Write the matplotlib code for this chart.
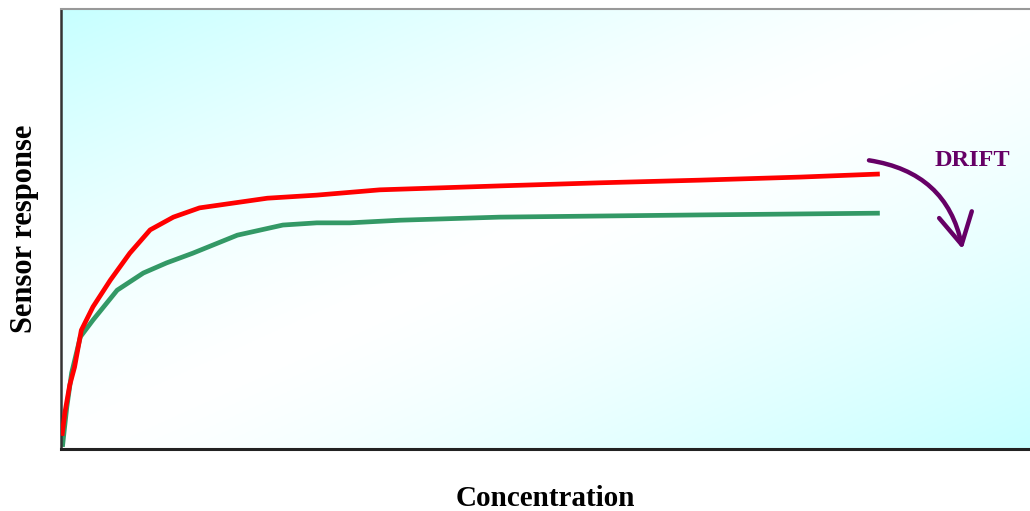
import numpy as np
import matplotlib
matplotlib.use("Agg")
import matplotlib.pyplot as plt
from matplotlib.patches import FancyArrowPatch

# concentration (arbitrary units) and sensor response (arbitrary units)
conc_red = [0.1, 0.4, 0.9, 1.4, 2.1, 3.3, 5.1, 7.1, 9.2, 11.6, 14.3, 17.8,
            21.3, 26.4, 32.9, 45.3, 55.6, 65.9, 76.3, 84.5]
resp_red = [3.0, 8.2, 14.5, 18.6, 27.0, 32.3, 38.4, 44.5, 49.8, 52.7, 54.8, 55.9,
            57.0, 57.7, 58.9, 59.8, 60.5, 61.1, 61.8, 62.5]

conc_green = [0.15, 0.6, 1.1, 2.0, 3.3, 5.8, 8.5, 10.9, 13.6, 18.2, 22.9, 26.4,
              29.8, 35.0, 45.3, 65.9, 84.5]
resp_green = [0.5, 9.5, 17.3, 25.5, 29.3, 36.1, 40.0, 42.3, 44.5, 48.6, 50.9, 51.4,
              51.4, 52.0, 52.7, 53.2, 53.6]

serif = ["Liberation Serif", "DejaVu Serif"]
purple = "#660066"

fig = plt.figure(figsize=(10.30, 5.11), dpi=100)
ax = fig.add_axes([0.0592, 0.1213, 0.9408, 0.8611])

# diagonal cyan -> white -> cyan background
u, v = np.meshgrid(np.linspace(0, 1, 300), np.linspace(0, 1, 150))
t = np.clip(np.abs(u + v - 1.0), 0, 1) ** 1.3
cyan = np.array([0.78, 1.0, 1.0])
img = (1 - t)[..., None] * np.ones(3) + t[..., None] * cyan
ax.imshow(img, extent=[0, 1, 0, 1], transform=ax.transAxes, aspect="auto",
          zorder=0, origin="upper")

ax.plot(conc_red, resp_red, color="#ff0000", lw=3.4, zorder=3, solid_capstyle="butt")
ax.plot(conc_green, resp_green, color="#339966", lw=3.4, zorder=2, solid_capstyle="butt")

ax.set_xlim(0, 100)
ax.set_ylim(0, 100)
ax.set_xticks([])
ax.set_yticks([])
ax.spines["right"].set_visible(False)
ax.spines["top"].set_color("#999999")
ax.spines["top"].set_linewidth(1.5)
ax.spines["left"].set_color("#333333")
ax.spines["left"].set_linewidth(1.8)
ax.spines["bottom"].set_color("#222222")
ax.spines["bottom"].set_linewidth(2.2)

ax.set_xlabel("Concentration", family=serif, fontweight="bold", fontsize=21, labelpad=26)
ax.set_ylabel("Sensor response", family=serif, fontweight="bold", fontsize=22, labelpad=16)

arrow = FancyArrowPatch((0.831, 0.657), (0.931, 0.448), transform=ax.transAxes,
                        connectionstyle="arc3,rad=-0.36",
                        arrowstyle="->,head_length=1.1,head_width=0.6",
                        mutation_scale=20, color=purple, lw=3.2, zorder=4)
ax.add_patch(arrow)
ax.text(0.94, 0.656, "DRIFT", transform=ax.transAxes, ha="center", va="center",
        family=serif, fontweight="bold", fontsize=17.5, color=purple)

fig.savefig("out.png", dpi=100)
